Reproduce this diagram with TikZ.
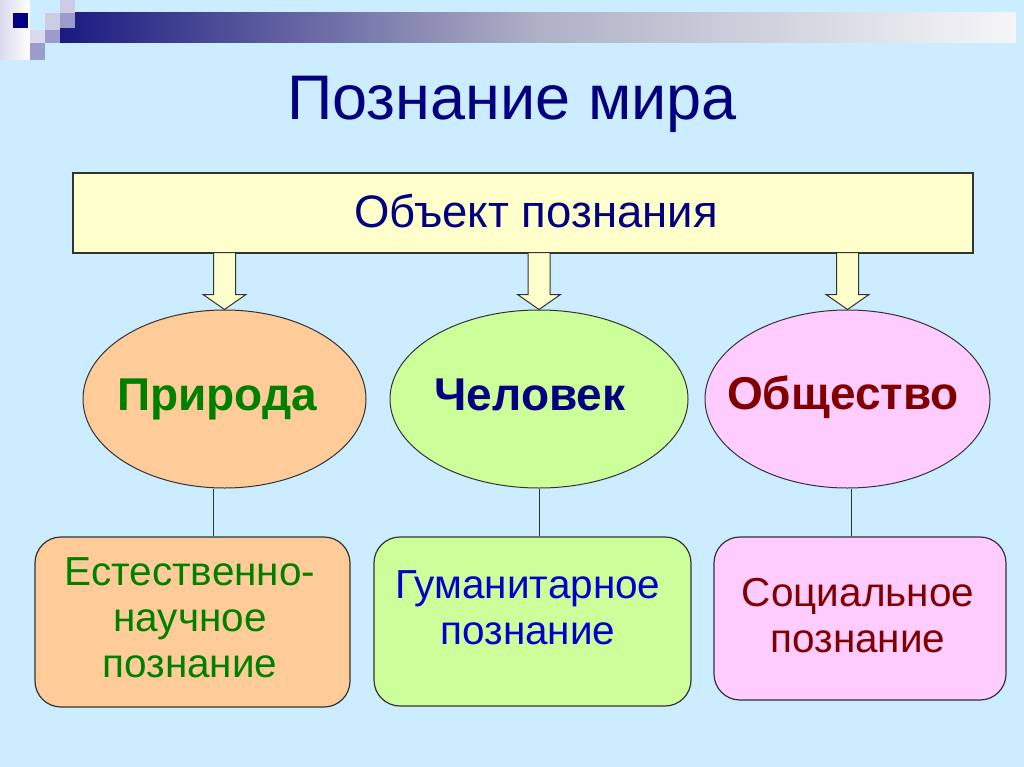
\documentclass[tikz,border=0pt]{standalone}
\usepackage{fontspec}
\setmainfont{Liberation Sans}
\usetikzlibrary{shapes.geometric,calc}
\definecolor{bg}{HTML}{CCECFF}
\definecolor{ylw}{HTML}{FFFFCC}
\definecolor{peach}{HTML}{FFCC99}
\definecolor{lime}{HTML}{CCFF99}
\definecolor{pinkf}{HTML}{FFCCFF}
\definecolor{dgreen}{HTML}{008000}
\definecolor{navy}{HTML}{000080}
\definecolor{maroon}{HTML}{800000}
\definecolor{blu}{HTML}{0000CC}
\definecolor{edge}{HTML}{333333}
\definecolor{barL}{HTML}{1A1A80}
\definecolor{barM}{HTML}{B0B0C6}
\definecolor{barR}{HTML}{F6F6F8}
\definecolor{lav1}{HTML}{CCCCE4}
\definecolor{lav2}{HTML}{9C9CCC}
\definecolor{lav3}{HTML}{DADAEE}
\newcommand\fs[2]{\fontsize{#1}{#2}\selectfont}
\tikzset{
  topbox/.style={draw=edge, line width=1.2pt, fill=ylw, minimum width=900pt, minimum height=80pt, inner sep=0pt},
  oval/.style={ellipse, draw=edge, line width=1pt, minimum width=283pt, minimum height=178pt, inner sep=0pt},
  rbox/.style={draw=edge, line width=1.2pt, rounded corners=26pt, inner sep=0pt},
  barrow/.style={draw=edge, line width=1pt, fill=ylw, line join=miter},
  link/.style={draw=edge, line width=1pt},
  ovaltxt/.style={anchor=base, font=\bfseries\fs{46}{52}},
  boxtxt/.style={align=center, font=\fs{40.5}{46}},
}
\newcommand\blockarr[1]{%
  \draw[barrow] (#1.north) -- ++(-21.5,-15) -- ++(10.5,0) -- ++(0,-42) -- ++(22,0) -- ++(0,42) -- ++(10.5,0) -- cycle;}
\begin{document}
\begin{tikzpicture}[x=1pt,y=-1pt]
\useasboundingbox (0,0) rectangle (1024,767);
\fill[bg] (0,0) rectangle (1024,767);
% decoration
\shade[left color=lav3, right color=white] (0,0) rectangle (30,60);
\shade[left color=barL, right color=barR, middle color=barM] (60,13) rectangle (1016,43);
\fill[navy] (13,13) rectangle (28,28);
\fill[lav3] (30,30) rectangle (45,43);
\fill[lav2] (30,43) rectangle (45,60);
\fill[lav1] (45,13) rectangle (60,30);
\fill[lav2] (45,30) rectangle (60,43);
\fill[lav1] (60,0) rectangle (75,13);
\fill[lav2] (60,13) rectangle (75,28);
% title
\node[anchor=base, text=navy, font=\fs{63}{70}] (title) at (512,120) {Познание мира};
% object box
\node[topbox] (top) at (523,213) {};
\node[anchor=base, text=navy, font=\fs{45.5}{50}] (toplbl) at (536,227) {Объект познания};
% ellipses
\node[oval, fill=peach] (e1) at (224.5,399) {};
\node[oval, fill=lime, minimum width=298pt] (e2) at (539,399) {};
\node[oval, fill=pinkf, minimum width=285pt] (e3) at (847.5,399) {};
\node[ovaltxt, text=dgreen] (t1) at (217,410) {Природа};
\node[ovaltxt, text=navy] (t2) at (530,410) {Человек};
\node[ovaltxt, text=maroon] (t3) at (843,409) {Общество};
% block arrows
\blockarr{e1}
\blockarr{e2}
\blockarr{e3}
% boxes
\node[rbox, fill=peach, minimum width=315pt, minimum height=170pt] (b1) at (192.5,622) {};
\node[rbox, fill=lime, minimum width=317pt, minimum height=169pt] (b2) at (532.5,621.5) {};
\node[rbox, fill=pinkf, minimum width=292pt, minimum height=163pt] (b3) at (860,618.5) {};
\node[boxtxt, text=dgreen] (l1) at (190,618) {Естественно-\\научное\\познание};
\node[boxtxt, text=blu] (l2) at (528,608) {Гуманитарное\\познание};
\node[boxtxt, text=maroon] (l3) at (858,616) {Социальное\\познание};
% links
\draw[link] (e1.south) ++(-11,0) coordinate (c1) -- (c1 |- b1.north);
\draw[link] (e2.south) -- (e2.south |- b2.north);
\draw[link] (e3.south) ++(4,0) coordinate (c3) -- (c3 |- b3.north);
\end{tikzpicture}
\end{document}
